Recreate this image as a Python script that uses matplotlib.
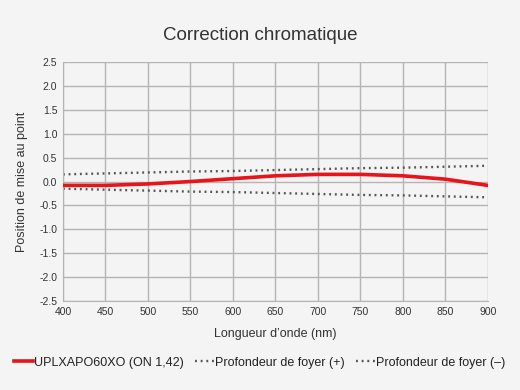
import matplotlib.pyplot as plt

plt.rcParams['font.family'] = ['Liberation Sans', 'DejaVu Sans']

wavelength = [400, 450, 500, 550, 600, 650, 700, 750, 800, 850, 900]
focus_shift = [-0.08, -0.08, -0.05, 0.00, 0.06, 0.12, 0.15, 0.15, 0.12, 0.05, -0.08]
depth_plus = [0.15, 0.17, 0.19, 0.21, 0.22, 0.24, 0.26, 0.28, 0.29, 0.31, 0.33]
depth_minus = [-0.15, -0.17, -0.19, -0.21, -0.22, -0.24, -0.26, -0.28, -0.29, -0.31, -0.33]

bg = '#f4f4f4'
fig = plt.figure(figsize=(5.2, 3.9), dpi=100, facecolor=bg)
ax = fig.add_axes([0.121, 0.228, 0.817, 0.613], facecolor=bg)

ax.plot(wavelength, focus_shift, color='#e8131b', lw=2.6, label='UPLXAPO60XO (ON 1,42)', zorder=3)
ax.plot(wavelength, depth_plus, color='#555555', lw=1.7, ls=(0, (0.8, 1.6)), label='Profondeur de foyer (+)')
ax.plot(wavelength, depth_minus, color='#555555', lw=1.7, ls=(0, (0.8, 1.6)), label='Profondeur de foyer (\u2013)')

ax.set_xlim(400, 900)
ax.set_ylim(-2.5, 2.5)
ax.set_xticks(range(400, 901, 50))
ax.set_yticks([i / 2 for i in range(-5, 6)])
ax.set_yticklabels([f'{i / 2:.1f}' for i in range(-5, 6)])
ax.grid(True, color='#b4b4b4', lw=1)
for s in ax.spines.values():
    s.set_visible(False)
ax.spines['left'].set_visible(True)
ax.spines['bottom'].set_visible(True)
ax.spines['left'].set_color('#b4b4b4')
ax.spines['bottom'].set_color('#b4b4b4')
ax.tick_params(length=0, labelsize=7.5, colors='#333333', pad=4)

ax.set_xlabel('Longueur d\u2019onde (nm)', fontsize=9, color='#333333', labelpad=8)
ax.set_ylabel('Position de mise au point', fontsize=9, color='#333333', labelpad=8)
fig.text(0.5, 0.91, 'Correction chromatique', ha='center', va='center', fontsize=13.5, color='#333333')

fig.legend(loc='center', bbox_to_anchor=(0.5, 0.07), ncol=3, frameon=False, fontsize=9,
           handlelength=1.5, handletextpad=0.1, columnspacing=0.9, labelcolor='#222222')

plt.savefig('out.png', dpi=100, facecolor=bg)
